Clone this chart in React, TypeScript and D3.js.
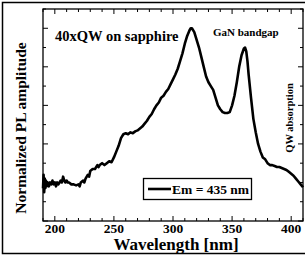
import * as d3 from "d3";
import { useEffect, useRef } from "react";

// wavelength [nm] and normalized PL amplitude
const wavelength = [
  190, 190.5, 191, 191.5, 192, 192.5, 193, 194, 195, 196, 197, 198, 199, 200, 201, 202, 203, 204,
  205, 206, 207, 208, 209, 210, 211, 212, 214, 216, 218, 220, 221, 222, 224, 225, 226, 228, 229,
  230, 232, 234, 236, 237, 238, 240, 242, 244, 246, 248, 250, 252, 254, 256, 258, 260, 262, 264,
  266, 268, 270, 272, 274, 276, 278, 280, 282, 284, 286, 288, 290, 292, 294, 296, 298, 300, 302,
  304, 306, 308, 310, 312, 314, 315, 316, 318, 320, 322, 324, 326, 328, 330, 332, 334, 336, 338,
  340, 342, 344, 346, 348, 350, 352, 354, 356, 358, 360, 361, 362, 363, 364, 366, 368, 370, 372,
  374, 376, 378, 380, 382, 384, 386, 388, 390, 392, 394, 396, 398, 400, 402, 404, 406, 408, 410,
];
const amplitude = [
  0.17, 0.24, 0.15, 0.22, 0.17, 0.21, 0.18, 0.2, 0.18, 0.2, 0.19, 0.21, 0.19, 0.2, 0.18, 0.2,
  0.19, 0.2, 0.21, 0.2, 0.23, 0.21, 0.2, 0.21, 0.2, 0.2, 0.19, 0.19, 0.185, 0.19, 0.18, 0.2, 0.21,
  0.2, 0.22, 0.24, 0.23, 0.26, 0.27, 0.27, 0.29, 0.28, 0.29, 0.3, 0.29, 0.3, 0.31, 0.305, 0.33,
  0.36, 0.39, 0.43, 0.45, 0.455, 0.45, 0.46, 0.455, 0.465, 0.47, 0.48, 0.49, 0.505, 0.52, 0.54,
  0.555, 0.58, 0.6, 0.615, 0.64, 0.65, 0.67, 0.685, 0.71, 0.735, 0.76, 0.79, 0.83, 0.87, 0.92,
  0.96, 0.99, 1.0, 1.0, 0.98, 0.94, 0.9, 0.85, 0.8, 0.75, 0.72, 0.7, 0.68, 0.64, 0.6, 0.58, 0.565,
  0.56, 0.56, 0.565, 0.6, 0.65, 0.72, 0.8, 0.86, 0.895, 0.9, 0.88, 0.83, 0.76, 0.64, 0.53, 0.46,
  0.4, 0.36, 0.33, 0.32, 0.3, 0.29, 0.29, 0.285, 0.28, 0.28, 0.275, 0.27, 0.265, 0.255, 0.245,
  0.235, 0.22, 0.205, 0.19, 0.175,
];
const xTicks = [200, 250, 300, 350, 400];

const W = 305;
const H = 260;
const font = "'Liberation Serif', 'Times New Roman', serif";

export default function App() {
  const ref = useRef<SVGSVGElement>(null);

  useEffect(() => {
    const svg = d3.select(ref.current);
    svg.selectAll("*").remove();

    const left = 43, right = 303, top = 9, bottom = 221;
    const x = d3.scaleLinear().domain([190, 410]).range([left, right]);
    const y = d3.scaleLinear().domain([0, 1.1]).range([bottom, top]);

    // outer frame
    svg.append("rect")
      .attr("x", 2.5).attr("y", 2.5).attr("width", W + 10).attr("height", 251)
      .attr("fill", "none").attr("stroke", "#000").attr("stroke-width", 1.5);

    const g = svg.append("g");

    // ticks, inward on all four sides
    const minorX = d3.range(190, 411, 10);
    const minorY = d3.range(0, 1.101, 0.1);
    minorX.forEach((v) => {
      const major = v % 50 === 0;
      const len = major ? 5 : 3;
      g.append("line").attr("x1", x(v)).attr("x2", x(v)).attr("y1", bottom).attr("y2", bottom - len)
        .attr("stroke", "#000").attr("stroke-width", 1);
      g.append("line").attr("x1", x(v)).attr("x2", x(v)).attr("y1", top).attr("y2", top + len)
        .attr("stroke", "#000").attr("stroke-width", 1);
    });
    minorY.forEach((v, i) => {
      const len = i % 2 === 0 ? 5 : 3;
      g.append("line").attr("x1", left).attr("x2", left + len).attr("y1", y(v)).attr("y2", y(v))
        .attr("stroke", "#000").attr("stroke-width", 1);
      g.append("line").attr("x1", right).attr("x2", right - len).attr("y1", y(v)).attr("y2", y(v))
        .attr("stroke", "#000").attr("stroke-width", 1);
    });

    g.append("rect")
      .attr("x", left).attr("y", top).attr("width", right - left).attr("height", bottom - top)
      .attr("fill", "none").attr("stroke", "#000").attr("stroke-width", 1.3);

    // curve
    const line = d3.line<number>()
      .x((d, i) => x(wavelength[i]))
      .y((d) => y(d));
    g.append("path")
      .datum(amplitude)
      .attr("d", line)
      .attr("fill", "none")
      .attr("stroke", "#000")
      .attr("stroke-width", 2.6)
      .attr("stroke-linejoin", "round");

    // x tick labels
    g.selectAll(".xl")
      .data(xTicks)
      .join("text")
      .attr("x", (d) => x(d))
      .attr("y", 233)
      .attr("text-anchor", "middle")
      .attr("font-family", font)
      .attr("font-weight", "bold")
      .attr("font-size", 13.5)
      .text((d) => d);

    svg.append("text")
      .attr("x", 176).attr("y", 250)
      .attr("text-anchor", "middle")
      .attr("font-family", font).attr("font-weight", "bold").attr("font-size", 17)
      .text("Wavelength [nm]");

    svg.append("text")
      .attr("transform", "translate(26,128) rotate(-90)")
      .attr("text-anchor", "middle")
      .attr("font-family", font).attr("font-weight", "bold").attr("font-size", 15.5)
      .text("Normalized PL amplitude");

    // annotations
    svg.append("text")
      .attr("x", 55).attr("y", 41)
      .attr("font-family", font).attr("font-weight", "bold").attr("font-size", 14.5)
      .text("40xQW on sapphire");
    svg.append("text")
      .attr("x", 213).attr("y", 36)
      .attr("font-family", font).attr("font-weight", "bold").attr("font-size", 11)
      .text("GaN bandgap");
    svg.append("text")
      .attr("transform", "translate(293,118) rotate(-90)")
      .attr("text-anchor", "middle")
      .attr("font-family", font).attr("font-weight", "bold").attr("font-size", 10.5)
      .text("QW absorption");

    // legend
    const lg = svg.append("g");
    lg.append("rect")
      .attr("x", 143.5).attr("y", 178.5).attr("width", 108).attr("height", 21)
      .attr("fill", "#fff").attr("stroke", "#000").attr("stroke-width", 1.3);
    lg.append("line")
      .attr("x1", 148).attr("x2", 171).attr("y1", 189).attr("y2", 189)
      .attr("stroke", "#000").attr("stroke-width", 2.6);
    lg.append("text")
      .attr("x", 172).attr("y", 193.5)
      .attr("font-family", font).attr("font-weight", "bold").attr("font-size", 13.5)
      .text("Em = 435 nm");
  }, []);

  return (
    <svg
      ref={ref}
      width={W}
      height={H}
      style={{ position: "absolute", left: 0, top: 0, background: "#fff" }}
    />
  );
}
